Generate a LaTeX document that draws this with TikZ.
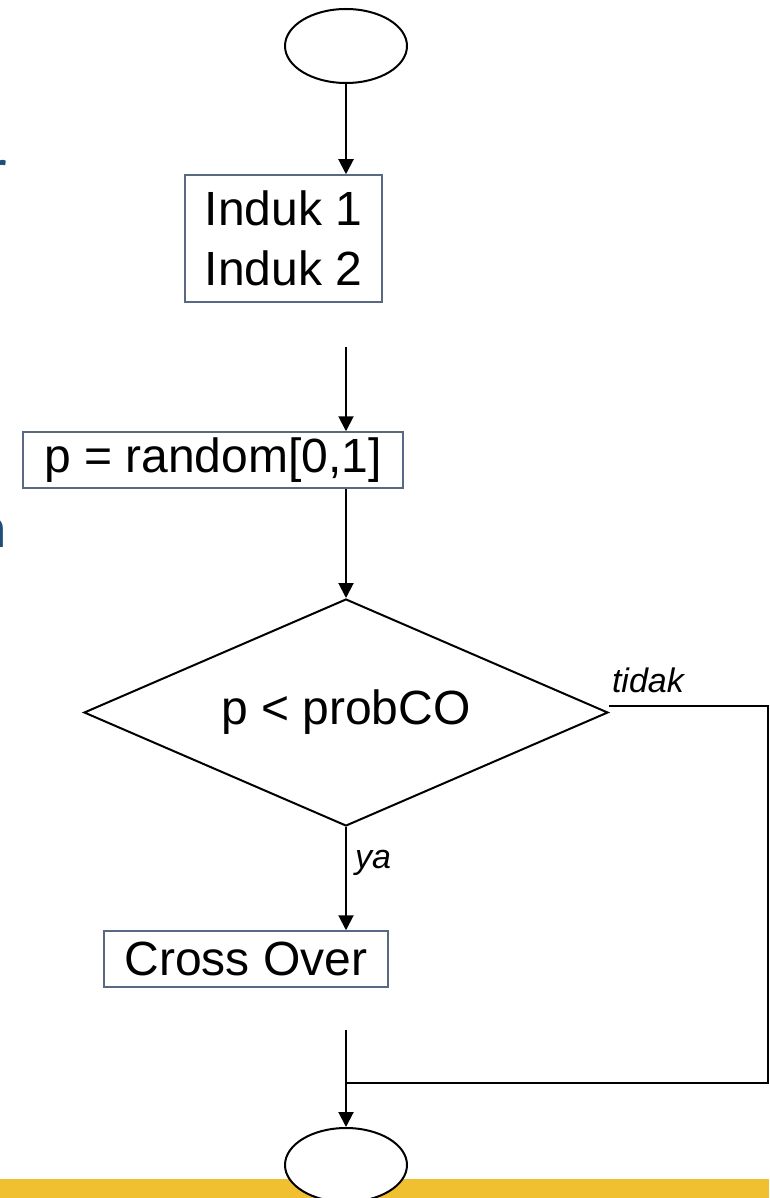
\documentclass[tikz,border=0pt]{standalone}
\usepackage{fontspec}
\setmainfont{Liberation Sans}
\newfontfamily\slidefont{Carlito}
\usetikzlibrary{shapes.geometric,arrows.meta}
\definecolor{boxedge}{RGB}{90,105,130}
\definecolor{slideblue}{RGB}{31,78,121}
\definecolor{baryellow}{RGB}{240,192,48}
\begin{document}
\begin{tikzpicture}[x=1pt,y=-1pt,line width=2pt,
  term/.style={ellipse, draw, fill=white, minimum width=122pt, minimum height=74pt, inner sep=0pt},
  procbox/.style={rectangle, draw=boxedge, line width=1.5pt, fill=white, font=\fontsize{48}{60}\selectfont, align=center, inner sep=0pt},
  decision/.style={diamond, draw, fill=white, aspect=2.3, minimum width=524pt, minimum height=227pt, inner sep=0pt, font=\fontsize{48}{60}\selectfont},
  arr/.style={-{Triangle[width=15pt,length=15pt]}},
  lbl/.style={font=\fontsize{34}{40}\selectfont\itshape, inner sep=0pt},
  frag/.style={anchor=base east, inner sep=0pt, text=slideblue, font=\slidefont\fontsize{60}{72}\selectfont}]
\useasboundingbox (0,0) rectangle (769,1198);
\fill[white] (0,0) rectangle (769,1198);
\fill[baryellow] (0,1179) rectangle (769,1198);

\node[frag] (fr) at (8,190) {r};
\node[frag] (fn) at (8,547) {n};

\node[term] (top) at (346,46) {};
\node[procbox, minimum width=197pt, minimum height=127pt] (b1) at (283.5,238.5) {Induk 1\\Induk 2};
\node[procbox, minimum width=380pt, minimum height=56pt] (b2) at (213,460) {p = random[0,1]};
\node[decision] (dec) at (346,712.5) {p < probCO};
\node[procbox, minimum width=284pt, minimum height=56pt] (b3) at (246,959) {Cross Over};
\node[term] (bot) at (346,1165) {};

\coordinate (g1) at (346,347);
\coordinate (g2) at (346,1030);
\coordinate (jr) at (768,1083);
\coordinate (j) at (346,1083);

\draw[arr] (top.south) -- (top.south |- b1.north);
\draw[arr] (g1) -- (g1 |- b2.north);
\draw[arr] (b2.south -| dec.north) -- (dec.north);
\draw[arr] (dec.south) -- (dec.south |- b3.north);
\draw[arr] (g2) -- (bot.north);
\draw ([yshift=7pt]dec.east) -| (jr) -- (j);

\node[lbl, anchor=base west] (ya) at (354,868) {ya};
\node[lbl, anchor=base west] (tidak) at (611,692) {tidak};
\end{tikzpicture}
\end{document}
